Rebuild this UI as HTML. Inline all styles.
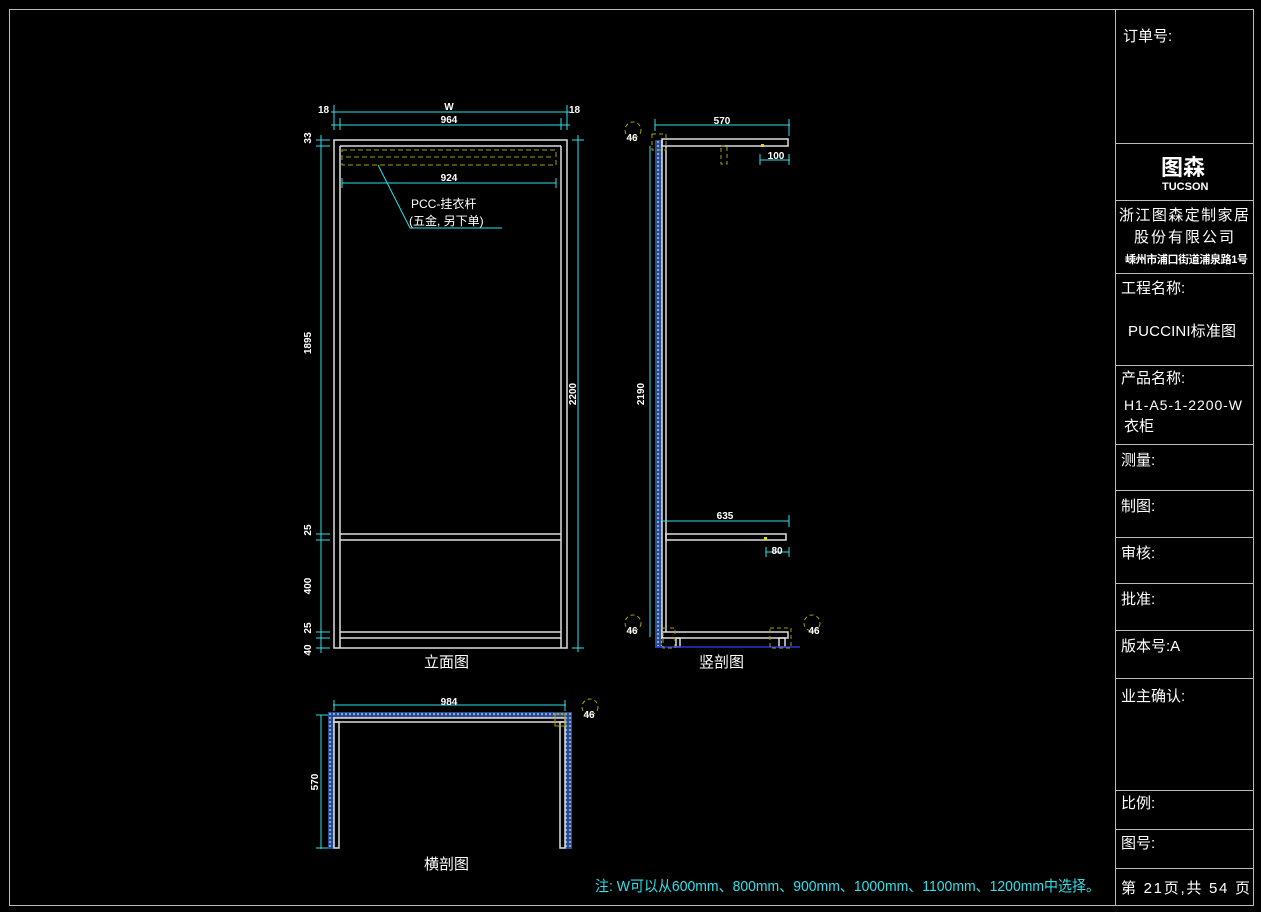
<!DOCTYPE html>
<html><head><meta charset="utf-8"><style>
html,body{margin:0;padding:0;background:#000;width:1261px;height:912px;overflow:hidden}
svg{display:block}
text{font-family:"Liberation Sans","Noto Sans CJK SC",sans-serif}
</style></head><body>
<svg width="1261" height="912" viewBox="0 0 1261 912" xmlns="http://www.w3.org/2000/svg">
<defs>
<pattern id="h" width="4" height="4" patternUnits="userSpaceOnUse"><rect width="4" height="4" fill="#2a4a90"/><circle cx="2" cy="2" r="1.1" fill="#8fb0e0"/></pattern>
</defs>
<rect x="9.5" y="9.5" width="1244" height="896" fill="none" stroke="#bbb"/>
<g stroke="#bbb" fill="none">
<line x1="1115.5" y1="9" x2="1115.5" y2="905"/>
<line x1="1115" y1="143.5" x2="1253" y2="143.5"/>
<line x1="1115" y1="200.5" x2="1253" y2="200.5"/>
<line x1="1115" y1="273.5" x2="1253" y2="273.5"/>
<line x1="1115" y1="365.5" x2="1253" y2="365.5"/>
<line x1="1115" y1="444.5" x2="1253" y2="444.5"/>
<line x1="1115" y1="490.5" x2="1253" y2="490.5"/>
<line x1="1115" y1="537.5" x2="1253" y2="537.5"/>
<line x1="1115" y1="583.5" x2="1253" y2="583.5"/>
<line x1="1115" y1="630.5" x2="1253" y2="630.5"/>
<line x1="1115" y1="678.5" x2="1253" y2="678.5"/>
<line x1="1115" y1="790.5" x2="1253" y2="790.5"/>
<line x1="1115" y1="829.5" x2="1253" y2="829.5"/>
<line x1="1115" y1="868.5" x2="1253" y2="868.5"/>
</g>
<g fill="#fff" font-size="15">
<text x="1123" y="41">订单号:</text>
<text x="1161" y="175" font-size="22" font-weight="bold">图森</text>
<text x="1162" y="190" font-size="11" font-weight="bold">TUCSON</text>
<text x="1119" y="220" font-size="15" textLength="130">浙江图森定制家居</text>
<text x="1134" y="242" font-size="15" textLength="100">股份有限公司</text>
<text x="1125" y="263" font-size="11" font-weight="bold" textLength="123">嵊州市浦口街道浦泉路1号</text>
<text x="1121" y="293">工程名称:</text>
<text x="1128" y="336" font-size="15" textLength="108">PUCCINI标准图</text>
<text x="1121" y="383">产品名称:</text>
<text x="1124" y="410" font-size="14" textLength="118">H1-A5-1-2200-W</text>
<text x="1124" y="431">衣柜</text>
<text x="1121" y="465">测量:</text>
<text x="1121" y="511">制图:</text>
<text x="1121" y="558">审核:</text>
<text x="1121" y="604">批准:</text>
<text x="1121" y="651">版本号:A</text>
<text x="1121" y="701">业主确认:</text>
<text x="1121" y="808">比例:</text>
<text x="1121" y="848">图号:</text>
<text x="1121" y="893" textLength="129">第 21页,共 54 页</text>
</g>
<text x="595" y="891" fill="#2de0e8" font-size="15" textLength="505" lengthAdjust="spacingAndGlyphs">注: W可以从600mm、800mm、900mm、1000mm、1100mm、1200mm中选择。</text>

<!-- Elevation -->
<g stroke="#ddd" fill="none" stroke-width="1.5">
<rect x="334" y="140" width="233" height="508"/>
<line x1="340" y1="146" x2="340" y2="648"/>
<line x1="561" y1="146" x2="561" y2="648"/>
<line x1="340" y1="146" x2="561" y2="146"/>
<line x1="340" y1="534" x2="561" y2="534"/>
<line x1="340" y1="540" x2="561" y2="540"/>
<line x1="340" y1="632" x2="561" y2="632"/>
<line x1="340" y1="638" x2="561" y2="638"/>
</g>
<g stroke="#a8a000" fill="none" stroke-dasharray="5,3">
<rect x="342" y="150" width="214" height="15"/>
<line x1="346" y1="157" x2="552" y2="157"/>
</g>
<g stroke="#2de0e8" fill="none">
<line x1="331" y1="112" x2="570" y2="112"/>
<line x1="331" y1="125" x2="570" y2="125"/>
<line x1="334" y1="105" x2="334" y2="130"/><line x1="340" y1="118" x2="340" y2="130"/>
<line x1="561" y1="118" x2="561" y2="130"/><line x1="567" y1="105" x2="567" y2="130"/>
<line x1="342" y1="183" x2="556" y2="183"/>
<line x1="342" y1="178" x2="342" y2="188"/><line x1="556" y1="178" x2="556" y2="188"/>
<polyline points="378,165 410,228 502,228"/>
<line x1="321" y1="135" x2="321" y2="653"/>
<line x1="316" y1="140" x2="330" y2="140"/><line x1="316" y1="146" x2="330" y2="146"/>
<line x1="316" y1="534" x2="330" y2="534"/><line x1="316" y1="540" x2="330" y2="540"/>
<line x1="316" y1="632" x2="330" y2="632"/><line x1="316" y1="638" x2="330" y2="638"/>
<line x1="316" y1="648" x2="330" y2="648"/>
<line x1="578" y1="135" x2="578" y2="652"/>
<line x1="572" y1="140" x2="584" y2="140"/><line x1="572" y1="648" x2="584" y2="648"/>
</g>
<g fill="#fff" font-size="10" font-weight="bold">
<text x="449" y="110" text-anchor="middle">W</text>
<text x="449" y="123" text-anchor="middle">964</text>
<text x="449" y="181" text-anchor="middle">924</text>
<text x="318" y="113">18</text><text x="569" y="113">18</text>
<text x="0" y="0" transform="translate(311,343) rotate(-90)" text-anchor="middle">1895</text>
<text x="0" y="0" transform="translate(311,138) rotate(-90)" text-anchor="middle">33</text>
<text x="0" y="0" transform="translate(311,530) rotate(-90)" text-anchor="middle">25</text>
<text x="0" y="0" transform="translate(311,586) rotate(-90)" text-anchor="middle">400</text>
<text x="0" y="0" transform="translate(311,628) rotate(-90)" text-anchor="middle">25</text>
<text x="0" y="0" transform="translate(311,650) rotate(-90)" text-anchor="middle">40</text>
<text x="0" y="0" transform="translate(576,394) rotate(-90)" text-anchor="middle">2200</text>
</g>
<g fill="#fff" font-size="12">
<text x="411" y="208">PCC-挂衣杆</text>
<text x="409" y="225">(五金, 另下单)</text>
</g>
<text x="424" y="667" fill="#fff" font-size="15">立面图</text>

<!-- Section -->
<rect x="655" y="140" width="7" height="508" fill="url(#h)"/>
<g stroke="#ddd" fill="none" stroke-width="1.5">
<line x1="662" y1="140" x2="662" y2="638"/>
<line x1="666" y1="146" x2="666" y2="632"/>
<rect x="662" y="139" width="126" height="7"/>
<rect x="666" y="534" width="120" height="6"/>
<rect x="662" y="632" width="126" height="6"/>
<rect x="676" y="638" width="4" height="9"/>
<rect x="779" y="638" width="6" height="9"/>
</g>
<line x1="655" y1="647" x2="800" y2="647" stroke="#2233dd" stroke-width="1.5"/>
<g stroke="#a8a000" fill="none" stroke-dasharray="4,3">
<rect x="721" y="146" width="6" height="18"/>
<rect x="652" y="134" width="14" height="16"/>
<rect x="663" y="628" width="12" height="20"/>
<rect x="770" y="628" width="21" height="20"/>
<circle cx="633" cy="130" r="8"/><circle cx="633" cy="623" r="8"/><circle cx="812" cy="623" r="8"/><circle cx="590" cy="707" r="8"/>
</g>
<rect x="761" y="144" width="3" height="3" fill="#dd0"/>
<rect x="764" y="537" width="3" height="3" fill="#dd0"/>
<g stroke="#2de0e8" fill="none">
<line x1="655" y1="125" x2="790" y2="125"/>
<line x1="655" y1="119" x2="655" y2="131"/><line x1="789" y1="119" x2="789" y2="136"/>
<line x1="760" y1="160" x2="790" y2="160"/><line x1="760" y1="154" x2="760" y2="165"/><line x1="789" y1="154" x2="789" y2="165"/>
<line x1="662" y1="521" x2="789" y2="521"/><line x1="789" y1="515" x2="789" y2="527"/>
<line x1="766" y1="552" x2="789" y2="552"/><line x1="766" y1="547" x2="766" y2="557"/><line x1="789" y1="547" x2="789" y2="557"/>
<line x1="650" y1="146" x2="650" y2="637"/>
</g>
<g fill="#fff" font-size="10" font-weight="bold">
<text x="722" y="124" text-anchor="middle">570</text>
<text x="776" y="159" text-anchor="middle">100</text>
<text x="725" y="519" text-anchor="middle">635</text>
<text x="777" y="554" text-anchor="middle">80</text>
<text x="0" y="0" transform="translate(644,394) rotate(-90)" text-anchor="middle">2190</text>
<text x="632" y="141" text-anchor="middle">46</text>
<text x="632" y="634" text-anchor="middle">46</text>
<text x="814" y="634" text-anchor="middle">46</text>
<text x="589" y="718" text-anchor="middle">46</text>
</g>
<text x="699" y="667" fill="#fff" font-size="15">竖剖图</text>

<!-- Plan -->
<rect x="328" y="712" width="244" height="6" fill="url(#h)"/>
<rect x="328" y="712" width="6" height="137" fill="url(#h)"/>
<rect x="565" y="712" width="7" height="137" fill="url(#h)"/>
<g stroke="#ddd" fill="none" stroke-width="1.5">
<rect x="334" y="718" width="231" height="4"/>
<rect x="334" y="722" width="5" height="126"/>
<rect x="560" y="722" width="5" height="126"/>
</g>
<rect x="555" y="714" width="10" height="12" fill="none" stroke="#a8a000"/>
<g stroke="#2de0e8" fill="none">
<line x1="333" y1="705" x2="566" y2="705"/><line x1="334" y1="700" x2="334" y2="711"/><line x1="565" y1="700" x2="565" y2="711"/>
<line x1="321" y1="715" x2="321" y2="849"/><line x1="316" y1="715" x2="328" y2="715"/><line x1="316" y1="848" x2="328" y2="848"/>
</g>
<g fill="#fff" font-size="10" font-weight="bold">
<text x="449" y="705" text-anchor="middle">984</text>
<text x="0" y="0" transform="translate(318,782) rotate(-90)" text-anchor="middle">570</text>
</g>
<text x="424" y="869" fill="#fff" font-size="15">横剖图</text>
</svg>
</body></html>
